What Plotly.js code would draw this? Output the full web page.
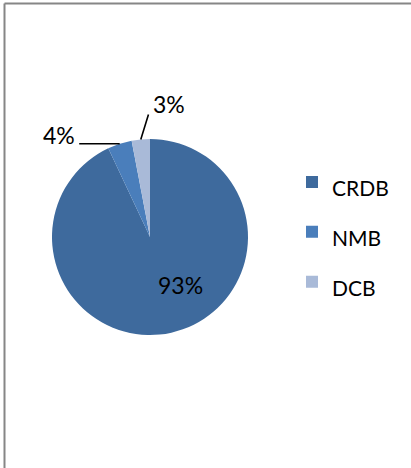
<!DOCTYPE html>
<html>
<head>
<meta charset="utf-8">
<script src="https://cdn.plot.ly/plotly-3.0.1.min.js"></script>
<style>html,body{margin:0;padding:0;background:#fff;}#chart{width:411px;height:468px;}</style>
</head>
<body>
<div id="chart"></div>
<script>
var banks = ['CRDB', 'NMB', 'DCB'];
var shares = [93, 4, 3];
var sliceColors = ['#3E6A9D', '#4A7EBB', '#A9BAD8'];

var W = 411, H = 468;
var cxPx = 150, cyPx = 237, rPx = 98;
var dom = {
  x: [(cxPx - rPx) / W, (cxPx + rPx) / W],
  y: [(H - cyPx - rPx) / H, (H - cyPx + rPx) / H]
};
var total = shares.reduce(function(a, b){ return a + b; }, 0);
var pctText = shares.map(function(v){ return Math.round(v / total * 100) + '%'; });

// mid angles (clockwise from 12 o'clock)
var mids = [], acc = 0;
shares.forEach(function(v){ mids.push((acc + v / 2) / total * 2 * Math.PI); acc += v; });
function tip(i){
  return {
    x: (cxPx + rPx * Math.sin(mids[i])) / W,
    y: (H - cyPx + rPx * Math.cos(mids[i])) / H
  };
}
var t1 = tip(1), t2 = tip(2);

var trace = {
  type: 'pie',
  labels: banks.map(function(b){ return '<span style="font-size:21px">' + b + '</span>'; }),
  values: shares,
  sort: false,
  direction: 'clockwise',
  rotation: 0,
  domain: dom,
  marker: {colors: sliceColors, line: {width: 0}},
  textinfo: 'none',
  hoverinfo: 'none'
};

var annFont = {family: 'Lato, sans-serif', size: 23, color: '#000'};
var lineFont = {size: 1, color: 'rgba(0,0,0,0)'};
function leader(t, ax, ay){
  return {xref: 'paper', yref: 'paper', x: t.x, y: t.y, text: ' ', font: lineFont,
    showarrow: true, arrowhead: 0, arrowwidth: 1.6, arrowcolor: '#000',
    standoff: 0, startstandoff: 0, ax: ax, ay: ay, borderpad: 0};
}
function label(t, txt, dx, dy){
  return {xref: 'paper', yref: 'paper', x: t.x, y: t.y, text: txt, font: annFont,
    showarrow: false, xanchor: 'center', yanchor: 'middle', xshift: dx, yshift: dy};
}

var layout = {
  width: W, height: H,
  margin: {l: 0, r: 0, t: 0, b: 0},
  paper_bgcolor: '#fff',
  showlegend: true,
  legend: {
    x: 292 / W, y: 0.504, xanchor: 'left', yanchor: 'middle',
    font: {family: 'Lato, sans-serif', size: 36, color: '#000'},
    bgcolor: 'rgba(0,0,0,0)'
  },
  annotations: [
    {xref: 'paper', yref: 'paper', x: 180 / W, y: 1 - 285 / H, text: pctText[0], font: annFont,
     showarrow: false, xanchor: 'center', yanchor: 'middle'},
    leader(t1, -41, 0),
    label(t1, pctText[1], -61, 9),
    leader(t2, 8, -26),
    label(t2, pctText[2], 28, 35)
  ],
  shapes: [
    {type: 'line', xref: 'paper', yref: 'paper', x0: 4.5 / W, x1: 1, y0: 1 - 3.5 / H, y1: 1 - 3.5 / H, line: {color: '#868686', width: 2}},
    {type: 'line', xref: 'paper', yref: 'paper', x0: 4.5 / W, x1: 4.5 / W, y0: 0, y1: 1 - 3.5 / H, line: {color: '#868686', width: 2}}
  ]
};

Plotly.newPlot('chart', [trace], layout, {displayModeBar: false, staticPlot: true});
</script>
</body>
</html>
